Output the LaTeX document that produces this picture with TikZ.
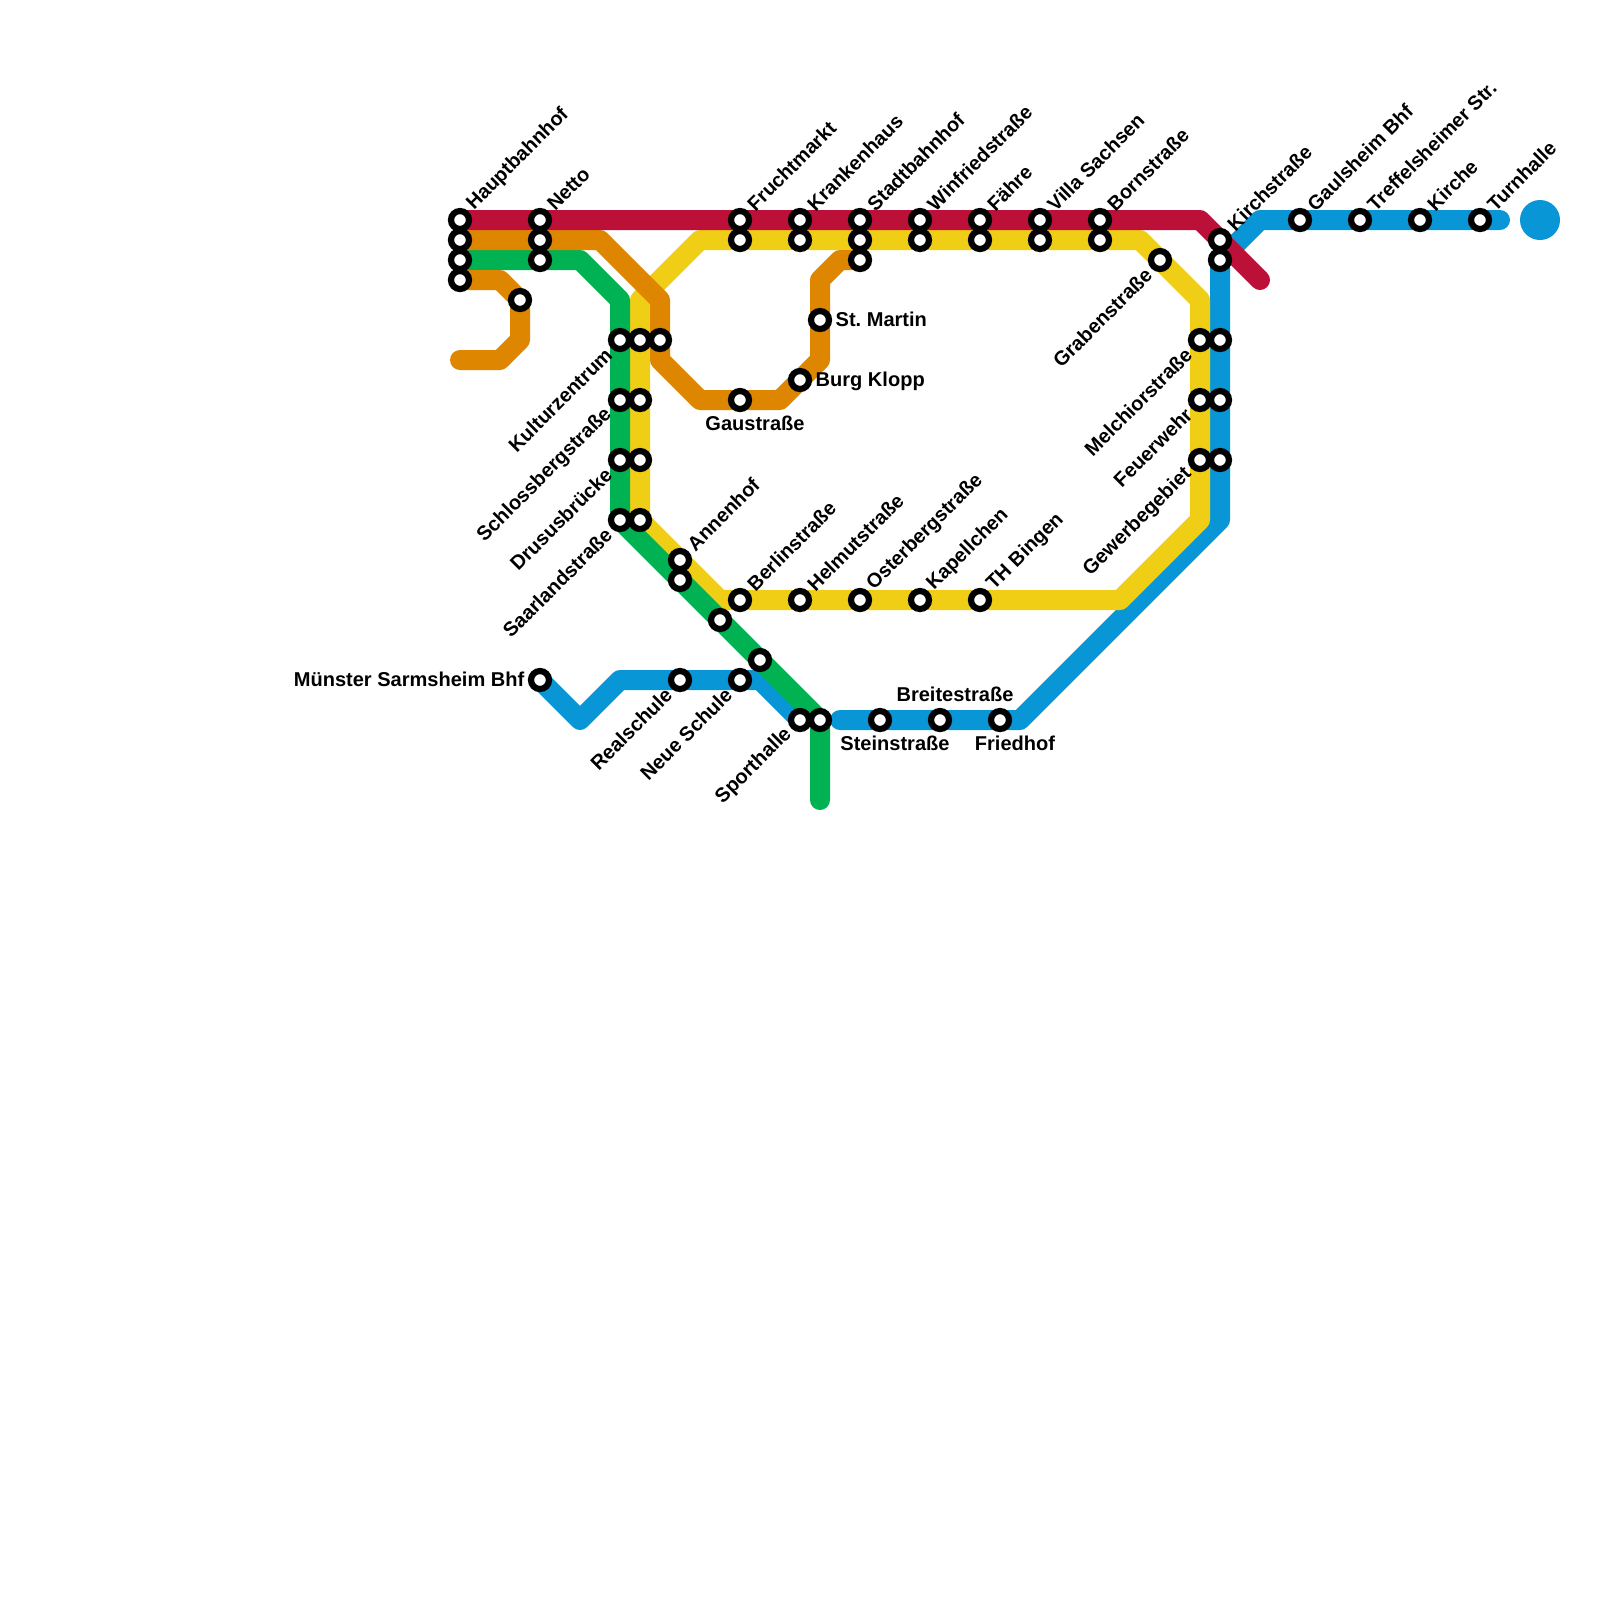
\documentclass[tikz,border=0pt]{standalone}
\usepackage{fontspec}
\setmainfont{Liberation Sans}
\usetikzlibrary{backgrounds}
\definecolor{linered}{HTML}{BD1038}
\definecolor{lineorange}{HTML}{DF8600}
\definecolor{linegreen}{HTML}{00B251}
\definecolor{lineyellow}{HTML}{F0CE15}
\definecolor{lineblue}{HTML}{0896D7}

\begin{document}
\frenchspacing
\begin{tikzpicture}[
    x=0.2cm, y=-0.2cm,
    stop node/.style={circle, draw=black, fill=white, line width=0.062cm, inner sep=0pt, outer sep=0pt, minimum size=0.18cm},
    end node/.style={circle, fill=lineblue, inner sep=0pt, outer sep=0pt, minimum size=0.4cm},
    name node/.style={inner sep=0pt, font=\fontsize{5.7}{6}\selectfont\bfseries},
    ne label/.style={name node, font=\fontsize{5.65}{6}\selectfont\bfseries, xshift=0.10cm, yshift=0.125cm, rotate=45, anchor=west},
    sw label/.style={name node, xshift=-0.11cm, yshift=-0.11cm, rotate=45, anchor=east},
    e label/.style={name node, xshift=0.15cm, yshift=-0.065cm, anchor=base west},
    w label/.style={name node, xshift=-0.15cm, yshift=-0.065cm, anchor=base east},
    s label/.style={name node, xshift=0.15cm, yshift=-0.23cm},
    n label/.style={name node, xshift=0.15cm, yshift=0.26cm},
    line edge/.style={line width=0.2cm, line join=round, line cap=round}
]
\useasboundingbox (0,0) rectangle (80,80);

% Stops on the top row
\node[stop node] (Hbf)   at (23,11) {};
\node[stop node] (HbfO)  at (23,12) {};
\node[stop node] (HbfG)  at (23,13) {};
\node[stop node] (HbfB)  at (23,14) {};
\node[stop node] (Netto) at (27,11) {};
\node[stop node] (NettoO) at (27,12) {};
\node[stop node] (NettoG) at (27,13) {};
\node[stop node] (Upper) at (26,15) {};
\node[stop node] (Frucht)  at (37,11) {};
\node[stop node] (FruchtY) at (37,12) {};
\node[stop node] (Kranken)  at (40,11) {};
\node[stop node] (KrankenY) at (40,12) {};
\node[stop node] (Stadt)  at (43,11) {};
\node[stop node] (StadtY) at (43,12) {};
\node[stop node] (StadtO) at (43,13) {};
\node[stop node] (Winfried)  at (46,11) {};
\node[stop node] (WinfriedY) at (46,12) {};
\node[stop node] (Faehre)  at (49,11) {};
\node[stop node] (FaehreY) at (49,12) {};
\node[stop node] (Villa)  at (52,11) {};
\node[stop node] (VillaY) at (52,12) {};
\node[stop node] (Born)  at (55,11) {};
\node[stop node] (BornY) at (55,12) {};
\node[stop node] (Graben) at (58,13) {};
\node[stop node] (Kirch)  at (61,12) {};
\node[stop node] (KirchB) at (61,13) {};
\node[stop node] (Gauls)  at (65,11) {};
\node[stop node] (Treff)  at (68,11) {};
\node[stop node] (Kirche) at (71,11) {};
\node[stop node] (Turn)   at (74,11) {};
\node[end node]  (TurnEnd) at (77,11) {};

% Stops on the left side
\node[stop node] (Kultur)  at (31,17) {};
\node[stop node] (KulturY) at (32,17) {};
\node[stop node] (KulturO) at (33,17) {};
\node[stop node] (Schloss)  at (31,20) {};
\node[stop node] (SchlossY) at (32,20) {};
\node[stop node] (Drusus)  at (31,23) {};
\node[stop node] (DrususY) at (32,23) {};
\node[stop node] (Saar)  at (31,26) {};
\node[stop node] (SaarY) at (32,26) {};
\node[stop node] (Martin) at (41,16) {};
\node[stop node] (Klopp)  at (40,19) {};
\node[stop node] (Gau)    at (37,20) {};

% Stops on the right side
\node[stop node] (Melch)  at (60,17) {};
\node[stop node] (MelchB) at (61,17) {};
\node[stop node] (Feuer)  at (60,20) {};
\node[stop node] (FeuerB) at (61,20) {};
\node[stop node] (Gewerbe)  at (60,23) {};
\node[stop node] (GewerbeB) at (61,23) {};

% Stops on the lower rows
\node[stop node] (Anne)  at (34,28) {};
\node[stop node] (AnneG) at (34,29) {};
\node[stop node] (Berlin) at (37,30) {};
\node[stop node] (Helmut) at (40,30) {};
\node[stop node] (Oster)  at (43,30) {};
\node[stop node] (Kapell) at (46,30) {};
\node[stop node] (Bingen) at (49,30) {};
\node[stop node] (DiagA) at (36,31) {};
\node[stop node] (DiagB) at (38,33) {};
\node[stop node] (Muenster) at (27,34) {};
\node[stop node] (Real) at (34,34) {};
\node[stop node] (Neue) at (37,34) {};
\node[stop node] (Sport)  at (40,36) {};
\node[stop node] (SportG) at (41,36) {};
\node[stop node] (Stein)  at (44,36) {};
\node[stop node] (Breite) at (47,36) {};
\node[stop node] (Fried)  at (50,36) {};

% Bends and free line ends
\coordinate (R1) at (60,11);
\coordinate (R2) at (63,14);
\coordinate (O1) at (30,12);
\coordinate (O2) at (33,15);
\coordinate (O3) at (33,18);
\coordinate (O4) at (35,20);
\coordinate (O5) at (39,20);
\coordinate (O6) at (41,18);
\coordinate (O7) at (41,14);
\coordinate (O8) at (42,13);
\coordinate (P1) at (25,14);
\coordinate (P2) at (26,17);
\coordinate (P3) at (25,18);
\coordinate (P4) at (23,18);
\coordinate (G1) at (29,13);
\coordinate (G2) at (31,15);
\coordinate (G3) at (41,40);
\coordinate (Y1) at (32,15);
\coordinate (Y2) at (35,12);
\coordinate (Y3) at (57,12);
\coordinate (Y4) at (60,15);
\coordinate (Y5) at (60,26);
\coordinate (Y6) at (56,30);
\coordinate (Y7) at (36,30);
\coordinate (B1) at (75,11);
\coordinate (B2) at (63,11);
\coordinate (B3) at (61,26);
\coordinate (B4) at (51,36);
\coordinate (B5) at (42,36);
\coordinate (C1) at (29,36);
\coordinate (C2) at (31,34);
\coordinate (C3) at (38,34);

\begin{scope}[on background layer]
% Blue lines
\draw[line edge, lineblue] (B1) -- (Turn.center) -- (Kirche.center) -- (Treff.center) -- (Gauls.center) -- (B2) -- (KirchB.center) -- (MelchB.center) -- (FeuerB.center) -- (GewerbeB.center) -- (B3) -- (B4) -- (Fried.center) -- (Breite.center) -- (Stein.center) -- (B5);
\draw[line edge, lineblue] (Muenster.center) -- (C1) -- (C2) -- (Real.center) -- (Neue.center) -- (C3) -- (Sport.center);

% Yellow ring
\draw[line edge, lineyellow] (Y1) -- (Y2) -- (FruchtY.center) -- (KrankenY.center) -- (StadtY.center) -- (WinfriedY.center) -- (FaehreY.center) -- (VillaY.center) -- (BornY.center) -- (Y3) -- (Graben.center) -- (Y4) -- (Melch.center) -- (Feuer.center) -- (Gewerbe.center) -- (Y5) -- (Y6) -- (Bingen.center) -- (Kapell.center) -- (Oster.center) -- (Helmut.center) -- (Berlin.center) -- (Y7) -- (Anne.center) -- (SaarY.center) -- (DrususY.center) -- (SchlossY.center) -- (KulturY.center) -- cycle;

% Green line
\draw[line edge, linegreen] (HbfG.center) -- (NettoG.center) -- (G1) -- (G2) -- (Kultur.center) -- (Schloss.center) -- (Drusus.center) -- (Saar.center) -- (AnneG.center) -- (DiagA.center) -- (DiagB.center) -- (SportG.center) -- (G3);

% Orange lines
\draw[line edge, lineorange] (HbfO.center) -- (NettoO.center) -- (O1) -- (O2) -- (KulturO.center) -- (O3) -- (O4) -- (Gau.center) -- (O5) -- (Klopp.center) -- (O6) -- (Martin.center) -- (O7) -- (O8) -- (StadtO.center);
\draw[line edge, lineorange] (HbfB.center) -- (P1) -- (Upper.center) -- (P2) -- (P3) -- (P4);

% Red line
\draw[line edge, linered] (Hbf.center) -- (Netto.center) -- (Frucht.center) -- (Kranken.center) -- (Stadt.center) -- (Winfried.center) -- (Faehre.center) -- (Villa.center) -- (Born.center) -- (R1) -- (R2);
\end{scope}

% Names going up to the right
\node[ne label] (HbfL) at (Hbf) {Hauptbahnhof};
\node[ne label] (NettoL) at (Netto) {Netto};
\node[ne label] (FruchtL) at (Frucht) {Fruchtmarkt};
\node[ne label] (KrankenL) at (Kranken) {Krankenhaus};
\node[ne label] (StadtL) at (Stadt) {Stadtbahnhof};
\node[ne label] (WinfriedL) at (Winfried) {Winfriedstraße};
\node[ne label] (FaehreL) at (Faehre) {Fähre};
\node[ne label] (VillaL) at (Villa) {Villa Sachsen};
\node[ne label] (BornL) at (Born) {Bornstraße};
\node[ne label] (KirchL) at (Kirch) {Kirchstraße};
\node[ne label] (GaulsL) at (Gauls) {Gaulsheim Bhf};
\node[ne label] (TreffL) at (Treff) {Treffelsheimer Str.};
\node[ne label] (KircheL) at (Kirche) {Kirche};
\node[ne label] (TurnL) at (Turn) {Turnhalle};
\node[ne label] (AnneL) at (Anne) {Annenhof};
\node[ne label] (BerlinL) at (Berlin) {Berlinstraße};
\node[ne label] (HelmutL) at (Helmut) {Helmutstraße};
\node[ne label] (OsterL) at (Oster) {Osterbergstraße};
\node[ne label] (KapellL) at (Kapell) {Kapellchen};
\node[ne label] (BingenL) at (Bingen) {TH Bingen};

% Names going down to the left
\node[sw label] (KulturL) at (Kultur) {Kulturzentrum};
\node[sw label] (SchlossL) at (Schloss) {Schlossbergstraße};
\node[sw label] (DrususL) at (Drusus) {Drususbrücke};
\node[sw label] (SaarL) at (Saar) {Saarlandstraße};
\node[sw label] (GrabenL) at (Graben) {Grabenstraße};
\node[sw label] (MelchL) at (Melch) {Melchiorstraße};
\node[sw label] (FeuerL) at (Feuer) {Feuerwehr};
\node[sw label] (GewerbeL) at (Gewerbe) {Gewerbegebiet};
\node[sw label] (RealL) at (Real) {Realschule};
\node[sw label] (NeueL) at (Neue) {Neue Schule};
\node[sw label] (SportL) at (Sport) {Sporthalle};

% Level names
\node[e label] (MartinL) at (Martin) {St. Martin};
\node[e label] (KloppL) at (Klopp) {Burg Klopp};
\node[w label] (MuensterL) at (Muenster) {Münster Sarmsheim Bhf};
\node[s label] (GauL) at (Gau) {Gaustraße};
\node[s label] (SteinL) at (Stein) {Steinstraße};
\node[s label] (FriedL) at (Fried) {Friedhof};
\node[n label] (BreiteL) at (Breite) {Breitestraße};

\end{tikzpicture}
\end{document}
